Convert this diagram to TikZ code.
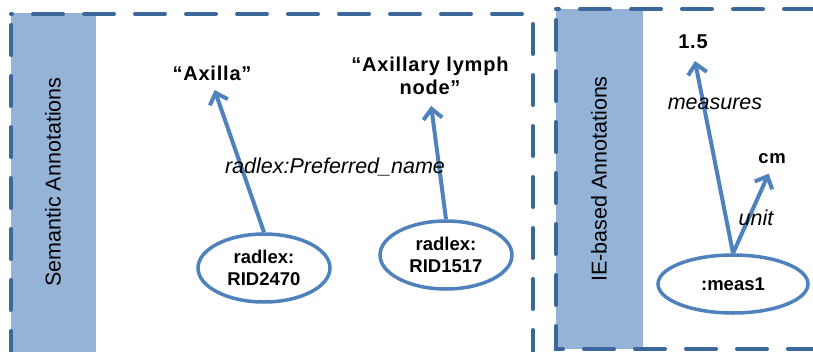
\documentclass[tikz,border=0pt]{standalone}
\usepackage{fontspec}
\setmainfont{Liberation Sans}
\usetikzlibrary{arrows.meta,shapes.geometric}
\definecolor{bandblue}{HTML}{95B3D7}
\definecolor{frameblue}{HTML}{3C679A}
\definecolor{linkblue}{HTML}{4F81BD}
\tikzset{
	term/.style={
		font = \fontsize{20}{23}\selectfont\bfseries\addfontfeature{LetterSpace=4},
		align = center,
		inner sep = 2pt
	},
	res/.style={
		shape = ellipse,
		draw = linkblue,
		line width = 3.5pt,
		fill = white,
		minimum width = 132pt,
		minimum height = 68pt,
		inner sep = 0pt,
		align = center,
		font = \fontsize{18.5}{22}\selectfont\bfseries
	},
	rel/.style={
		font = \fontsize{21.5}{24}\selectfont\itshape,
		inner sep = 0pt
	},
	link/.style={
		draw = linkblue,
		line width = 4pt,
		-{Straight Barb[length=10pt,width=19pt]}
	},
	boxframe/.style={
		draw = frameblue,
		line width = 4pt,
		line cap = round,
		dash pattern = on 30pt off 21pt,
		dash phase = 40pt
	},
	boxtitle/.style={
		rotate = 90,
		font = \fontsize{21.5}{24}\selectfont
	},
}

\begin{document}
\begin{tikzpicture}[x=1pt, y=-1pt]
    \useasboundingbox (0,0) rectangle (813,351);
    % the two annotation boxes
    \fill[bandblue] (11,13) rectangle (96,365);
    \fill[bandblue] (556,9) rectangle (643,349);
    \draw[boxframe] (11,14) rectangle (533,365);
    \draw[boxframe] (556,9) rectangle (835,349);
    \node[boxtitle] (sem) at (53,182) {Semantic Annotations};
    \node[boxtitle] (ie) at (599,179) {IE-based Annotations};

    % radlex terms
    \node[term] (axilla) at (212,73) {“Axilla”};
    \node[term] (lymph) at (430,76) {“Axillary lymph\\node”};
    \node[res] (rid2470) at (264,268) {radlex:\\RID2470};
    \node[res] (rid1517) at (446,255) {radlex:\\RID1517};
    \draw[link, shorten >=8pt] (rid2470.north) -- (axilla.south);
    \draw[link, shorten >=9pt] (rid1517.north) -- (lymph.south);
    \node[rel] (pref) at (335,167) {radlex:Preferred\_name};

    % measurement
    \node[term] (val) at (693,42) {1.5};
    \node[term, font=\fontsize{18.5}{22}\selectfont\bfseries\addfontfeature{LetterSpace=4}] (unit) at (772,159) {cm};
    \node[res, minimum width=150pt, minimum height=58pt] (meas) at (733,284) {:meas1};
    \draw[link, shorten >=10pt] (meas.north) -- (val.south);
    \draw[link, shorten >=8pt] (meas.north) -- (unit.south);
    \node[rel] (measures) at (715,104) {measures};
    \node[rel] (unitrel) at (756,218) {unit};
\end{tikzpicture}
\end{document}
